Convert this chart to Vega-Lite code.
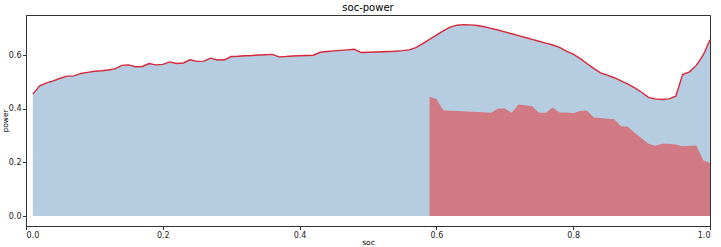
{
  "$schema": "https://vega.github.io/schema/vega-lite/v6.json",
  "width": 684,
  "height": 211,
  "autosize": "none",
  "padding": {"left": 26, "top": 15, "right": 11, "bottom": 21},
  "title": {"text": "soc-power", "fontSize": 10, "fontWeight": "normal", "font": "DejaVu Sans", "color": "#000", "offset": 2},
  "config": {
    "view": {"stroke": "#333", "strokeWidth": 1},
    "axis": {"labelFont": "DejaVu Sans", "titleFont": "DejaVu Sans", "labelFontSize": 8, "titleFontSize": 7.5, "titleFontWeight": "normal", "labelColor": "#222", "titleColor": "#000", "domainColor": "#333", "tickColor": "#333", "tickSize": 3.5, "grid": false}
  },
  "data": {"values": [
    {"soc":0.01,"power":0.455},{"soc":0.02,"power":0.486},{"soc":0.03,"power":0.497},{"soc":0.04,"power":0.504},{"soc":0.05,"power":0.514},
    {"soc":0.06,"power":0.522},{"soc":0.07,"power":0.523},{"soc":0.08,"power":0.532},{"soc":0.09,"power":0.536},{"soc":0.10,"power":0.540},
    {"soc":0.11,"power":0.542},{"soc":0.12,"power":0.545},{"soc":0.13,"power":0.549},{"soc":0.14,"power":0.562},{"soc":0.15,"power":0.564},
    {"soc":0.16,"power":0.557},{"soc":0.17,"power":0.558},{"soc":0.18,"power":0.569},{"soc":0.19,"power":0.564},{"soc":0.20,"power":0.566},
    {"soc":0.21,"power":0.575},{"soc":0.22,"power":0.569},{"soc":0.23,"power":0.571},{"soc":0.24,"power":0.583},{"soc":0.25,"power":0.577},
    {"soc":0.26,"power":0.578},{"soc":0.27,"power":0.589},{"soc":0.28,"power":0.582},{"soc":0.29,"power":0.583},{"soc":0.30,"power":0.595},
    {"soc":0.31,"power":0.596},{"soc":0.32,"power":0.598},{"soc":0.33,"power":0.599},{"soc":0.34,"power":0.601},{"soc":0.35,"power":0.602},
    {"soc":0.36,"power":0.603},{"soc":0.37,"power":0.594},{"soc":0.38,"power":0.595},{"soc":0.39,"power":0.597},{"soc":0.40,"power":0.598},
    {"soc":0.41,"power":0.599},{"soc":0.42,"power":0.600},{"soc":0.43,"power":0.611},{"soc":0.44,"power":0.614},{"soc":0.45,"power":0.616},
    {"soc":0.46,"power":0.618},{"soc":0.47,"power":0.620},{"soc":0.48,"power":0.622},{"soc":0.49,"power":0.610},{"soc":0.50,"power":0.611},
    {"soc":0.51,"power":0.612},{"soc":0.52,"power":0.613},{"soc":0.53,"power":0.614},{"soc":0.54,"power":0.615},{"soc":0.55,"power":0.617},
    {"soc":0.56,"power":0.620},{"soc":0.57,"power":0.628},{"soc":0.58,"power":0.643},
    {"soc":0.59,"power":0.659,"red":0.445},{"soc":0.60,"power":0.675,"red":0.437},{"soc":0.61,"power":0.691,"red":0.395},
    {"soc":0.62,"power":0.705,"red":0.393},{"soc":0.63,"power":0.712,"red":0.392},{"soc":0.64,"power":0.714,"red":0.391},
    {"soc":0.65,"power":0.713,"red":0.389},{"soc":0.66,"power":0.711,"red":0.388},{"soc":0.67,"power":0.706,"red":0.387},
    {"soc":0.68,"power":0.700,"red":0.385},{"soc":0.69,"power":0.694,"red":0.401},{"soc":0.70,"power":0.687,"red":0.401},
    {"soc":0.71,"power":0.680,"red":0.385},{"soc":0.72,"power":0.673,"red":0.416},{"soc":0.73,"power":0.666,"red":0.413},
    {"soc":0.74,"power":0.659,"red":0.410},{"soc":0.75,"power":0.652,"red":0.385},{"soc":0.76,"power":0.645,"red":0.385},
    {"soc":0.77,"power":0.638,"red":0.405},{"soc":0.78,"power":0.629,"red":0.386},{"soc":0.79,"power":0.615,"red":0.386},
    {"soc":0.80,"power":0.604,"red":0.384},{"soc":0.81,"power":0.588,"red":0.392},{"soc":0.82,"power":0.569,"red":0.394},
    {"soc":0.83,"power":0.551,"red":0.368},{"soc":0.84,"power":0.534,"red":0.366},{"soc":0.85,"power":0.526,"red":0.363},
    {"soc":0.86,"power":0.516,"red":0.361},{"soc":0.87,"power":0.504,"red":0.335},{"soc":0.88,"power":0.492,"red":0.333},
    {"soc":0.89,"power":0.478,"red":0.310},{"soc":0.90,"power":0.462,"red":0.290},{"soc":0.91,"power":0.443,"red":0.270},
    {"soc":0.92,"power":0.437,"red":0.262},{"soc":0.93,"power":0.435,"red":0.270},{"soc":0.94,"power":0.437,"red":0.270},
    {"soc":0.95,"power":0.447,"red":0.267},{"soc":0.96,"power":0.528,"red":0.260},{"soc":0.97,"power":0.538,"red":0.262},
    {"soc":0.98,"power":0.562,"red":0.263},{"soc":0.99,"power":0.600,"red":0.208},{"soc":1.00,"power":0.658,"red":0.198}
  ]},
  "encoding": {
    "x": {"field": "soc", "type": "quantitative", "title": "soc",
      "scale": {"domain": [0, 1], "nice": false, "zero": false},
      "axis": {"values": [0, 0.2, 0.4, 0.6, 0.8, 1.0], "format": ".1f", "labelPadding": 1.5, "titleY": 18, "titleBaseline": "alphabetic"}}
  },
  "layer": [
    {
      "mark": {"type": "area", "color": "#b5cce1", "opacity": 1},
      "encoding": {
        "y": {"field": "power", "type": "quantitative", "title": "power",
          "scale": {"domain": [-0.037, 0.75], "nice": false, "zero": false},
          "axis": {"values": [0, 0.1, 0.2, 0.3, 0.4, 0.5, 0.6, 0.7], "format": ".1f", "labelPadding": 1.5, "titleX": -21, "titleBaseline": "middle"}},
        "y2": {"datum": 0}
      }
    },
    {
      "transform": [{"filter": "datum.red != null"}],
      "mark": {"type": "area", "color": "#d27a83", "opacity": 1},
      "encoding": {
        "y": {"field": "red", "type": "quantitative"},
        "y2": {"datum": 0}
      }
    },
    {
      "mark": {"type": "line", "color": "#d6283a", "strokeWidth": 1.4},
      "encoding": {
        "y": {"field": "power", "type": "quantitative"}
      }
    }
  ]
}
